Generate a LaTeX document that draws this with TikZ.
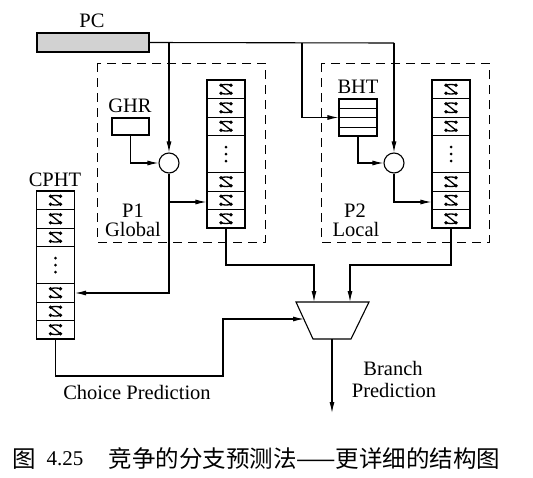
\documentclass[tikz,border=0pt]{standalone}
\usepackage{fontspec}
\setmainfont{Liberation Serif}
\newfontfamily\cjk{Noto Sans CJK SC}
\usetikzlibrary{arrows.meta}
\newcommand\ctrtable[3]{%
 \node[tbl] (#1) at (#2,#3+74) {};
 \foreach \d in {18.5,37,55.5,92.5,111,129.5} \draw[line width=1pt] (#2-19,#3+\d) -- (#2+19,#3+\d);
 \foreach \d in {9.25,27.75,46.25,101.75,120.25,138.75} \pic at (#2,#3+\d) {ctr};
 \foreach \d in {-7,0,7} \fill (#2,#3+74+\d) circle (1.5pt);
}
\begin{document}
\begin{tikzpicture}[x=1pt,y=-1pt, line width=1.1pt,
 lbl/.style={font=\fontsize{20.5}{22}\selectfont, anchor=base, inner sep=0},
 tbl/.style={draw, rectangle, inner sep=0, minimum width=38pt, minimum height=148pt},
 arr/.style={-{Latex[length=11pt,width=5pt]}},
 dbox/.style={draw, dash pattern=on 9pt off 6pt, line width=1pt},
 xr/.style={circle, draw, minimum size=20pt, inner sep=0},
 ctr/.pic={\draw[line width=1.3pt] (5,-4) .. controls (2,-5) and (-2,-5) .. (-5,-4) -- (5,4) .. controls (2,5) and (-2,5) .. (-5,4);
   \fill (-5,-4) circle (1.8pt) (5,-4) circle (1.8pt) (-5,4) circle (1.8pt) (5,4) circle (1.8pt);}]
\useasboundingbox (0,0) rectangle (533,477);

% dashed boxes
\draw[dbox] (97,63) rectangle (265,242);
\draw[dbox] (321,63) rectangle (489,242);

% PC
\node[lbl] (pclbl) at (92,27) {PC};
\node[draw, rectangle, fill=gray!35, inner sep=0, minimum width=112pt, minimum height=19pt] (pc) at (93,42.5) {};

% GHR
\node[lbl] (ghrlbl) at (130,112) {GHR};
\node[draw, rectangle, inner sep=0, minimum width=37pt, minimum height=17pt] (ghr) at (130.5,126.5) {};

% BHT
\node[lbl] (bhtlbl) at (358,93) {BHT};
\node[draw, rectangle, inner sep=0, minimum width=38pt, minimum height=37pt] (bht) at (358,117.5) {};
\foreach \yy in {108,117.5,127} \draw[line width=1pt] (339,\yy) -- (377,\yy);

% xor circles
\node[xr] (c1) at (169,163) {};
\node[xr] (c2) at (394,163) {};

% tables
\ctrtable{t1}{226}{80}
\ctrtable{t2}{451}{80}
\ctrtable{cpht}{55.5}{191}
\node[lbl] (cphtlbl) at (55,186) {CPHT};

% labels
\node[lbl] (p1) at (133,217) {P1};
\node[lbl] (glob) at (133,236) {Global};
\node[lbl] (p2) at (355,217) {P2};
\node[lbl] (loc) at (356,236) {Local};
\node[lbl] (br) at (393,375) {Branch};
\node[lbl] (pred) at (394,397) {Prediction};
\node[lbl] (choice) at (137,399) {Choice Prediction};

% mux
\draw (296,302) -- (369,302) -- (351,339) -- (313,339) -- cycle;
\coordinate (mi1) at (314,302);
\coordinate (mi2) at (350,302);
\coordinate (ml) at (304,319);
\coordinate (mo) at (332,339);
\coordinate (out) at (332,413);

% PC connections
\coordinate (j1) at (169,43);
\coordinate (j2) at (302,43);
\coordinate (j3) at (394,43);
\draw (pc.east) -- (j3);
\draw[arr] (j3) -- (c2.north);
\draw[arr] (j1) -- (c1.north);
\draw[arr] (j2) |- (bht.west);

% GHR / BHT to circles
\draw[arr] (ghr.south) |- (c1.west);
\draw[arr] (bht.south) |- (c2.west);

% circle outputs
\coordinate (k1) at (169,202);
\coordinate (k2) at (169,293);
\coordinate (k3) at (394,202);
\draw[arr] (k1) -- (t1.west |- k1);
\draw[arr] (c1.south) -- (k2) -- (cpht.east |- k2);
\draw[arr] (c2.south) |- (t2.west |- k3);

% table outputs to mux
\coordinate (b1) at (314,265);
\coordinate (b2) at (350,265);
\draw[arr] (t1.south) |- (b1) -- (mi1);
\draw[arr] (t2.south) |- (b2) -- (mi2);

% choice
\coordinate (c3) at (223,376);
\draw[arr] (cpht.south) |- (c3) |- (ml);

% output
\draw[arr] (mo) -- (out);

% caption
\node[font=\cjk\fontsize{23.5}{24}\selectfont, inner sep=0] (fig) at (24,459) {图};
\node[font=\fontsize{21}{22}\selectfont, inner sep=0] (num) at (65,459) {4.25};
\node[anchor=west, inner sep=0, font=\cjk\fontsize{23.5}{24}\selectfont] (cap) at (108,459) {竞争的分支预测法——更详细的结构图};
\end{tikzpicture}
\end{document}
